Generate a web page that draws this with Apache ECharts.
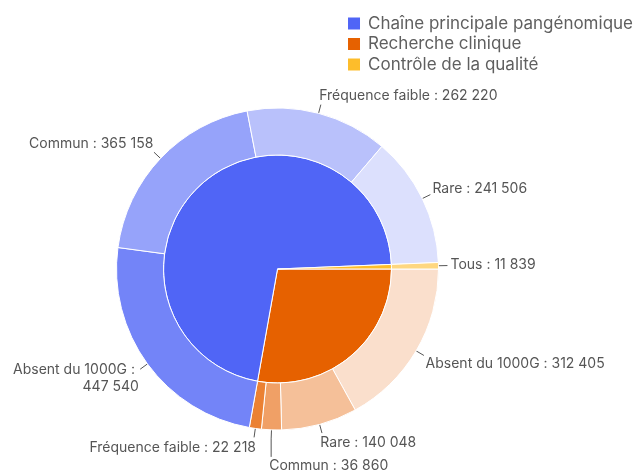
<!DOCTYPE html>
<html>
<head>
<meta charset="utf-8">
<script src="https://cdn.jsdelivr.net/npm/echarts@6/dist/echarts.min.js"></script>
<style>
  html, body { margin: 0; padding: 0; background: #fff; }
  #chart { width: 638px; height: 474px; }
</style>
</head>
<body>
<div id="chart"></div>
<script>
// groups (inner ring), drawn clockwise from 3 o'clock
const groupNames = ['Recherche clinique', 'Chaîne principale pangénomique', 'Contrôle de la qualité'];
const groupColors = ['#e66100', '#5065f6', '#fdbd2b'];
const legendOrder = ['Chaîne principale pangénomique', 'Recherche clinique', 'Contrôle de la qualité'];

// sub categories (outer ring), same clockwise order
const subNames = [
  'Absent du 1000G', 'Rare', 'Commun', 'Fréquence faible',
  'Absent du 1000G', 'Commun', 'Fréquence faible', 'Rare',
  'Tous'
];
const subValues = [
  312405, 140048, 36860, 22218,
  447540, 365158, 262220, 241506,
  11839
];
const subGroup = [0, 0, 0, 0, 1, 1, 1, 1, 2];
const subColors = [
  '#fadfcc', '#f5c099', '#f0a066', '#eb8133',
  '#7384f8', '#96a3fa', '#b9c1fb', '#dce0fd',
  '#fed780'
];

const groupValues = groupNames.map((n, g) =>
  subValues.reduce((s, v, i) => s + (subGroup[i] === g ? v : 0), 0));

const CX = 277.5, CY = 269, R_OUT = 161;
const LINE_LEN = 9;

function fmt(v) {
  return String(v).replace(/\B(?=(\d{3})+(?!\d))/g, ' ');
}

// label placement: short radial line, text box corner touching its end
let placed = [];
let shifts = null;

function placeLabel(params) {
  const i = params.dataIndex;
  const p0 = params.labelLinePoints[0];
  const d = Math.hypot(p0[0] - CX, p0[1] - CY) || 1;
  const ux = (p0[0] - CX) / d, uy = (p0[1] - CY) / d;
  const p1 = [p0[0] + ux * LINE_LEN, p0[1] + uy * LINE_LEN];
  const w = params.labelRect.width, h = params.labelRect.height;
  const alignLeft = ux >= -0.05;
  const gap = 3 - 5 * uy * uy;
  const x = alignLeft ? p1[0] + gap : p1[0] - gap;
  const amp = uy < 0 ? 8.5 : 10;
  let y = p1[1] + Math.sign(uy) * amp * Math.min(1, 1.6 * Math.abs(uy));
  placed[i] = { y, h, ux, uy };
  if (shifts) y += shifts[i];
  const left = alignLeft ? x : x - w;
  const top = y - h / 2;
  const nx = Math.min(Math.max(p1[0], left), left + w);
  const ny = Math.min(Math.max(p1[1], top), top + h);
  const end = Math.hypot(nx - p1[0], ny - p1[1]) > 6 ? [nx, ny] : p1;
  return {
    x: x, y: y,
    align: alignLeft ? 'left' : 'right',
    verticalAlign: 'middle',
    labelLinePoints: [p0, p1, end]
  };
}

function resolveOverlaps() {
  const s = placed.map(() => 0);
  [0, 1].forEach(side => {
    const grp = placed.map((p, i) => ({ p, i }))
      .filter(o => (o.p.ux >= 0 ? 0 : 1) === side);
    const bottom = grp.filter(o => o.p.uy >= 0).sort((a, b) => a.p.y - b.p.y);
    for (let k = 1; k < bottom.length; k++) {
      const a = bottom[k - 1], b = bottom[k];
      const aBottom = a.p.y + s[a.i] + a.p.h / 2;
      const bTop = b.p.y + s[b.i] - b.p.h / 2;
      if (bTop < aBottom + 1) s[b.i] += aBottom + 1 - bTop;
    }
    const topHalf = grp.filter(o => o.p.uy < 0).sort((a, b) => b.p.y - a.p.y);
    for (let k = 1; k < topHalf.length; k++) {
      const a = topHalf[k - 1], b = topHalf[k];
      const aTop = a.p.y + s[a.i] - a.p.h / 2;
      const bBottom = b.p.y + s[b.i] + b.p.h / 2;
      if (bBottom > aTop - 1) s[b.i] -= bBottom - (aTop - 1);
    }
  });
  return s;
}

const chart = echarts.init(document.getElementById('chart'));
const option = {
  animation: false,
  textStyle: { fontFamily: 'Inter' },
  legend: {
    data: legendOrder,
    orient: 'vertical',
    right: 0,
    top: 10,
    itemWidth: 14,
    itemHeight: 14,
    itemGap: 3.5,
    icon: 'rect',
    textStyle: { fontSize: 17, color: '#5f5f5f', fontFamily: 'Inter', padding: [0, 0, 0, 2] }
  },
  series: [
    {
      type: 'pie',
      center: [CX, CY],
      radius: [0, 114],
      startAngle: 0,
      clockwise: true,
      label: { show: false },
      labelLine: { show: false },
      itemStyle: { borderColor: '#fff', borderWidth: 1 },
      emphasis: { disabled: true },
      data: groupNames.map((n, i) => ({
        name: n, value: groupValues[i], itemStyle: { color: groupColors[i] }
      }))
    },
    {
      type: 'pie',
      center: [CX, CY],
      radius: [114, R_OUT],
      startAngle: 0,
      clockwise: true,
      itemStyle: { borderColor: '#fff', borderWidth: 1 },
      emphasis: { disabled: true },
      label: {
        show: true,
        fontSize: 14,
        lineHeight: 17,
        color: '#555',
        fontFamily: 'Inter',
        overflow: 'break',
        formatter: p => p.name + ' : ' + fmt(p.value)
      },
      labelLine: { length: 7, length2: 0, lineStyle: { color: '#555' } },
      labelLayout: placeLabel,
      data: subNames.map((n, i) => ({
        name: n, value: subValues[i], itemStyle: { color: subColors[i] }
      }))
    }
  ]
};
chart.setOption(option);
shifts = resolveOverlaps();
chart.setOption(option, true);
</script>
</body>
</html>
